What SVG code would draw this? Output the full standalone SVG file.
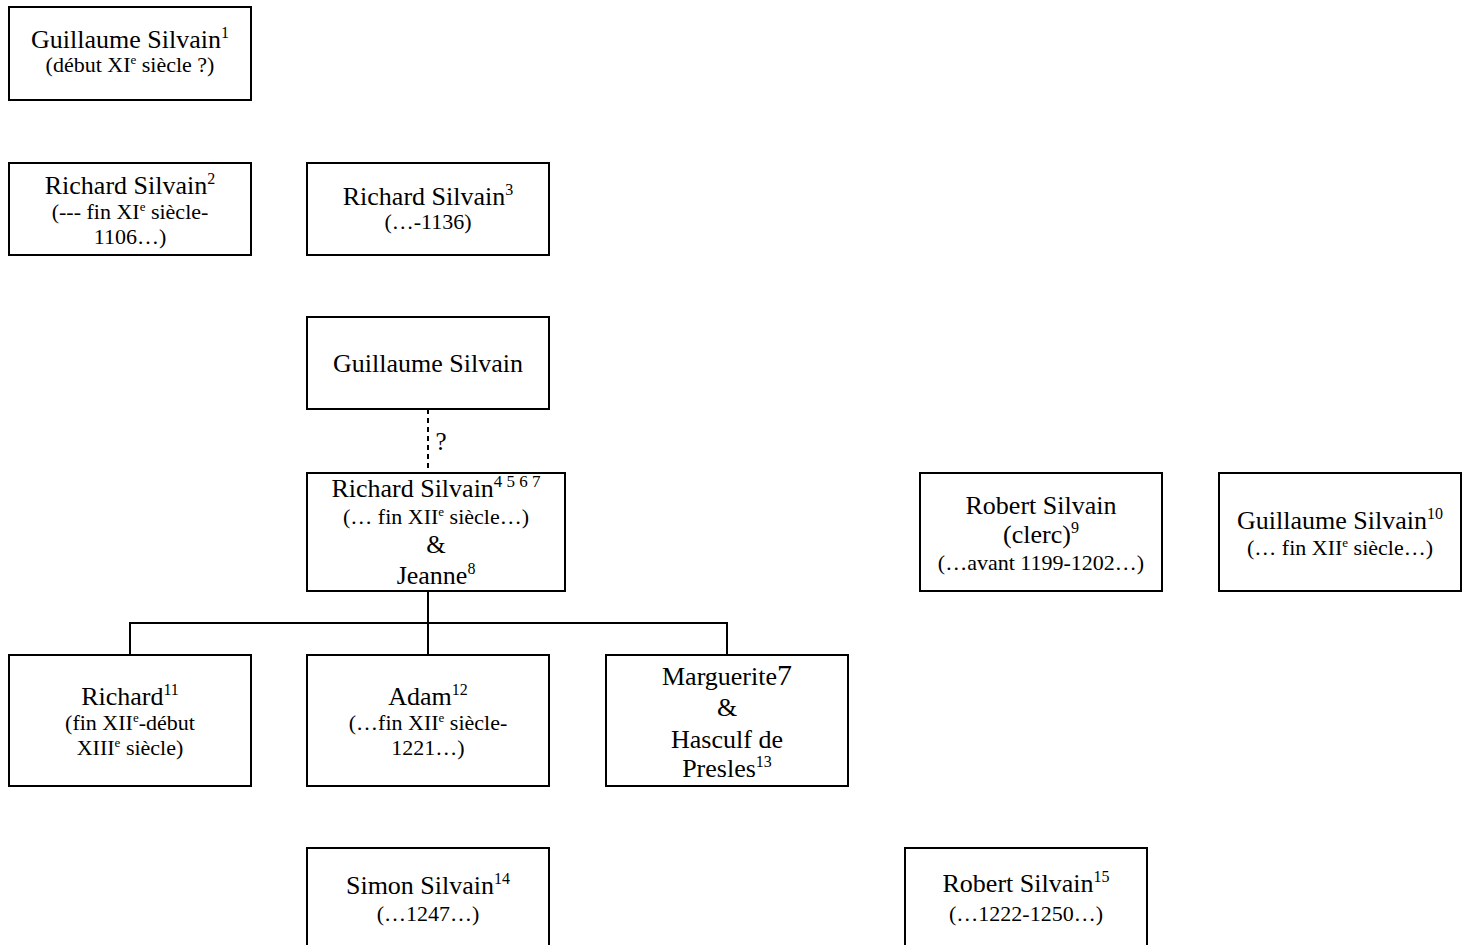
<svg xmlns="http://www.w3.org/2000/svg" width="1469" height="945" viewBox="0 0 1469 945">
<style>
.box{fill:#fff;stroke:#000;stroke-width:2}
.n{font-family:"Liberation Serif","Times New Roman",serif;font-size:26px;fill:#000;text-anchor:middle}
.s{font-family:"Liberation Serif","Times New Roman",serif;font-size:22px;fill:#000;text-anchor:middle}
.sup{font-size:16px}
.se{font-size:13px}
.ln{fill:none;stroke:#000;stroke-width:2}
.dash{fill:none;stroke:#000;stroke-width:2;stroke-dasharray:5,4}
</style>
<rect width="1469" height="945" fill="#fff"/>
<g id="connectors">
<line class="dash" x1="428" y1="409" x2="428" y2="473"/>
<text class="s" x="441" y="450" style="font-size:25px">?</text>
<line class="ln" x1="428" y1="591" x2="428" y2="655"/>
<polyline class="ln" points="130,655 130,623 727,623 727,655"/>
</g>
<g id="n1">
<rect class="box" x="9" y="7" width="242" height="93"/>
<text class="n" x="130" y="48">Guillaume Silvain<tspan class="sup" dy="-10">1</tspan></text>
<text class="s" x="130" y="72">(début XI<tspan class="se" dy="-8">e</tspan><tspan dy="8"> siècle ?)</tspan></text>
</g>
<g id="n2">
<rect class="box" x="9" y="163" width="242" height="92"/>
<text class="n" x="130" y="194">Richard Silvain<tspan class="sup" dy="-10">2</tspan></text>
<text class="s" x="130" y="219">(--- fin XI<tspan class="se" dy="-8">e</tspan><tspan dy="8"> siècle-</tspan></text>
<text class="s" x="130" y="244">1106…)</text>
</g>
<g id="n3">
<rect class="box" x="307" y="163" width="242" height="92"/>
<text class="n" x="428" y="205">Richard Silvain<tspan class="sup" dy="-10">3</tspan></text>
<text class="s" x="428" y="229">(…-1136)</text>
</g>
<g id="n4">
<rect class="box" x="307" y="317" width="242" height="92"/>
<text class="n" x="428" y="372">Guillaume Silvain</text>
</g>
<g id="n5">
<rect class="box" x="307" y="473" width="258" height="118"/>
<text class="n" x="436" y="497">Richard Silvain<tspan class="sup" dy="-10" style="font-size:17px">4 5 6 7</tspan></text>
<text class="s" x="436" y="524">(… fin XII<tspan class="se" dy="-8">e</tspan><tspan dy="8"> siècle…)</tspan></text>
<text class="n" x="436" y="553" style="font-size:25px">&amp;</text>
<text class="n" x="436" y="584">Jeanne<tspan class="sup" dy="-10">8</tspan></text>
</g>
<g id="n6">
<rect class="box" x="920" y="473" width="242" height="118"/>
<text class="n" x="1041" y="514">Robert Silvain</text>
<text class="n" x="1041" y="543">(clerc)<tspan class="sup" dy="-10">9</tspan></text>
<text class="s" x="1041" y="570">(…avant 1199-1202…)</text>
</g>
<g id="n7">
<rect class="box" x="1219" y="473" width="242" height="118"/>
<text class="n" x="1340" y="529">Guillaume Silvain<tspan class="sup" dy="-10">10</tspan></text>
<text class="s" x="1340" y="555">(… fin XII<tspan class="se" dy="-8">e</tspan><tspan dy="8"> siècle…)</tspan></text>
</g>
<g id="n8">
<rect class="box" x="9" y="655" width="242" height="131"/>
<text class="n" x="130" y="705">Richard<tspan class="sup" dy="-10">11</tspan></text>
<text class="s" x="130" y="730">(fin XII<tspan class="se" dy="-8">e</tspan><tspan dy="8">-début</tspan></text>
<text class="s" x="130" y="755">XIII<tspan class="se" dy="-8">e</tspan><tspan dy="8"> siècle)</tspan></text>
</g>
<g id="n9">
<rect class="box" x="307" y="655" width="242" height="131"/>
<text class="n" x="428" y="705">Adam<tspan class="sup" dy="-10">12</tspan></text>
<text class="s" x="428" y="730">(…fin XII<tspan class="se" dy="-8">e</tspan><tspan dy="8"> siècle-</tspan></text>
<text class="s" x="428" y="755">1221…)</text>
</g>
<g id="n10">
<rect class="box" x="606" y="655" width="242" height="131"/>
<text class="n" x="727" y="685">Marguerite<tspan style="font-size:30px">7</tspan></text>
<text class="n" x="727" y="716">&amp;</text>
<text class="n" x="727" y="748">Hasculf de</text>
<text class="n" x="727" y="777">Presles<tspan class="sup" dy="-10">13</tspan></text>
</g>
<g id="n11">
<rect class="box" x="307" y="848" width="242" height="110"/>
<text class="n" x="428" y="894">Simon Silvain<tspan class="sup" dy="-10">14</tspan></text>
<text class="s" x="428" y="921">(…1247…)</text>
</g>
<g id="n12">
<rect class="box" x="905" y="848" width="242" height="110"/>
<text class="n" x="1026" y="892">Robert Silvain<tspan class="sup" dy="-10">15</tspan></text>
<text class="s" x="1026" y="921">(…1222-1250…)</text>
</g>
</svg>
